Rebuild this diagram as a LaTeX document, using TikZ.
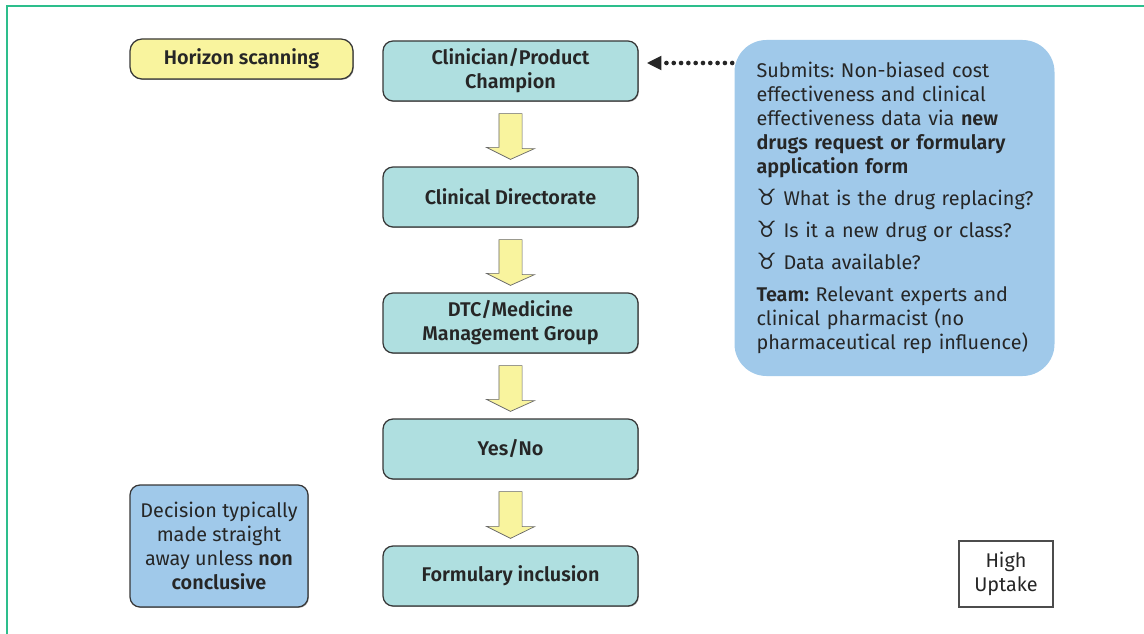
\documentclass[tikz,border=0pt]{standalone}
\usepackage{fontspec}
\setmainfont{Fira Sans}[BoldFont={Fira Sans SemiBold}]
\newfontfamily\symfont{DejaVu Sans}
\usetikzlibrary{calc,shadows,arrows.meta}
\frenchspacing

\definecolor{framegreen}{RGB}{45,190,140}
\definecolor{boxline}{RGB}{55,55,55}
\definecolor{scanyellow}{RGB}{249,244,158}
\definecolor{stageteal}{RGB}{175,223,224}
\definecolor{infoblue}{RGB}{160,201,234}

\newcommand{\figfont}{\fontsize{14.1}{17.1}\selectfont}
\newcommand{\tbullet}[1]{\mbox{{\symfont\fontsize{16}{17.1}\selectfont ♉}\hspace{0.35em}#1}}

\begin{document}
\begin{tikzpicture}[
  box/.style={draw=boxline, line width=0.9pt, rounded corners=0.25cm,
    align=center, inner sep=0pt, text=black!85,
    drop shadow={shadow xshift=0.6pt, shadow yshift=-0.6pt, fill=black!60, opacity=0.6}},
  stagebox/.style={box, fill=stageteal, font=\figfont\bfseries,
    minimum width=6.375cm, minimum height=1.5cm},
  blockarrow/.style={fill=scanyellow, draw=black!60, line width=0.5pt},
  dotline/.style={black!85, line width=3.3pt, line cap=round,
    dash pattern=on 0pt off 5.2pt, -{Triangle[length=10.5pt,width=9.5pt]}}
]
  \useasboundingbox (0,0) rectangle (28.6,-15.85);

  % page frame
  \draw[framegreen, line width=1.2pt] (28.6,-0.15) -- (0.175,-0.15) -- (0.175,-15.85);

  \node[box, fill=scanyellow, font=\figfont\bfseries, rounded corners=0.3cm,
    minimum width=5.575cm, minimum height=1cm] (scan) at (6.0375,-1.475) {Horizon scanning};

  % the stages, top to bottom
  \node[stagebox] (champ)  at (12.7625,-1.775)  {Clinician/Product\\Champion};
  \node[stagebox] (direct) at (12.7625,-4.925)  {Clinical Directorate};
  \node[stagebox] (dtc)    at (12.7625,-8.075)  {DTC/Medicine\\Management Group};
  \node[stagebox] (yesno)  at (12.7625,-11.225) {Yes/No};
  \node[stagebox] (formul) at (12.7625,-14.4)   {Formulary inclusion};

  \foreach \a/\b in {champ/direct, direct/dtc, dtc/yesno, yesno/formul}
    \path[blockarrow]
      ($(\a.south)+(-0.29,-0.3)$) -- ++(0.58,0) -- ++(0,-0.875) -- ++(0.31,0) --
      ($(\b.north)+(0,0.175)$) -- ++(-0.6,0.3) -- ++(0.31,0) -- cycle;

  \node[fill=infoblue, rounded corners=0.8cm, text=black!85, font=\figfont,
    text width=6.9cm, inner xsep=0.55cm, align=left,
    minimum width=7.925cm, minimum height=8.4cm] (info) at (22.3625,-5.2)
    {Submits: Non-biased cost\\
     effectiveness and clinical\\
     effectiveness data via \textbf{new}\\
     \textbf{drugs request or formulary}\\
     \textbf{application form}\\[0.2cm]
     \tbullet{What is the drug replacing?}\\[0.2cm]
     \tbullet{Is it a new drug or class?}\\[0.2cm]
     \tbullet{Data available?}\\[0.2cm]
     \textbf{Team:} Relevant experts and\\
     clinical pharmacist (no\\
     pharmaceutical rep influence)};

  \coordinate (dotlvl) at ([yshift=0.2cm]champ.east);
  \draw[dotline] (info.west |- dotlvl) ++(-0.05,0) -- ([xshift=0.2cm]dotlvl);

  \node[box, fill=infoblue, font=\figfont, minimum width=4.45cm, minimum height=3.05cm]
    (decide) at (5.475,-13.65)
    {Decision typically\\made straight\\away unless \textbf{non}\\\textbf{conclusive}};

  \node[box, rounded corners=0pt, fill=white, font=\figfont, draw=black!70,
    drop shadow={opacity=0}, minimum width=2.35cm, minimum height=1.65cm]
    (uptake) at (25.15,-14.35) {High\\Uptake};
\end{tikzpicture}
\end{document}
